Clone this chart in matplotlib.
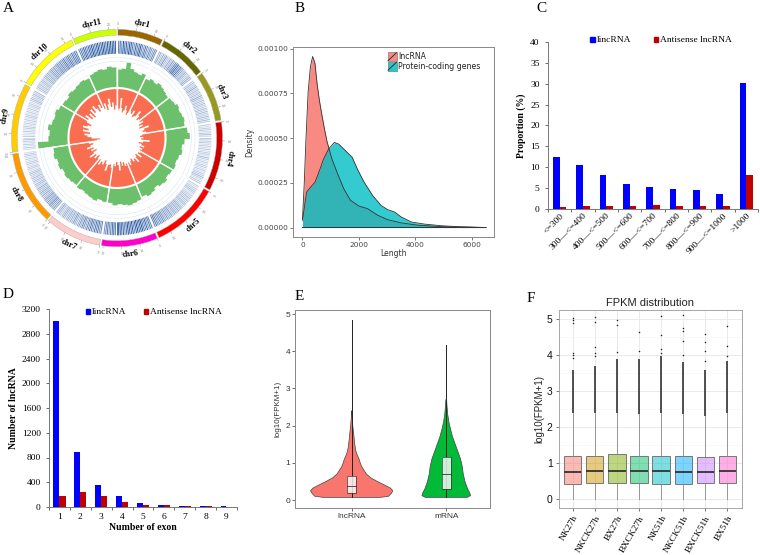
import numpy as np
import matplotlib
matplotlib.use('Agg')
import matplotlib.pyplot as plt
from matplotlib.patches import Wedge, Rectangle, Polygon
from matplotlib.collections import LineCollection

# ---------------- data ----------------
# A: circos
chr_names = ['chr1', 'chr2', 'chr3', 'chr4', 'chr5', 'chr6', 'chr7', 'chr8', 'chr9', 'chr10', 'chr11']
chr_len = [25, 26, 27, 37, 37, 31, 31, 40, 37, 34, 24]
chr_colors = ['#996600', '#666600', '#99991e', '#cc0000', '#ff0000', '#ff00cc',
              '#ffcccc', '#ff9900', '#ffcc00', '#ffff00', '#ccff00']
# lncRNA locus density (0-9) per 1 Mb, heat ring
heat = [
    [6, 8, 5, 9, 7, 8, 6, 9, 8, 7, 5, 8, 6, 7, 9, 6, 5, 7, 6, 4, 6, 5, 4, 6, 5],
    [3, 4, 2, 4, 3, 5, 3, 2, 4, 3, 5, 4, 6, 7, 8, 6, 7, 5, 4, 3, 4, 3, 2, 3, 4, 3],
    [2, 3, 2, 3, 4, 2, 3, 2, 3, 2, 4, 3, 2, 3, 2, 3, 2, 2, 3, 2, 3, 2, 2, 3, 2, 3, 2],
    [2, 1, 2, 2, 1, 2, 3, 1, 2, 1, 2, 2, 1, 2, 1, 2, 1, 2, 2, 1, 3, 2, 1, 2, 1, 2, 2, 1, 2, 1, 2, 2, 3, 2, 1, 2, 2],
    [2, 1, 2, 2, 3, 2, 1, 2, 2, 3, 2, 3, 2, 3, 3, 2, 3, 4, 3, 4, 3, 4, 4, 3, 5, 4, 4, 5, 4, 5, 6, 5, 6, 5, 6, 7, 6],
    [6, 7, 5, 8, 6, 7, 9, 8, 7, 9, 8, 6, 9, 7, 8, 9, 7, 6, 8, 7, 9, 8, 7, 6, 8, 7, 6, 5, 7, 6, 5],
    [6, 5, 7, 6, 7, 5, 6, 7, 5, 6, 4, 5, 6, 4, 5, 4, 3, 4, 5, 3, 4, 3, 4, 3, 3, 4, 3, 2, 3, 4, 3],
    [4, 5, 4, 5, 6, 4, 5, 4, 5, 4, 3, 4, 3, 4, 3, 3, 4, 2, 3, 3, 2, 3, 2, 3, 2, 2, 3, 2, 1, 2, 2, 1, 2, 2, 1, 2, 1, 2, 2, 1],
    [1, 2, 1, 2, 1, 2, 2, 1, 2, 1, 1, 2, 1, 2, 2, 1, 2, 1, 2, 1, 2, 2, 1, 2, 1, 2, 1, 2, 2, 1, 2, 3, 2, 2, 3, 2, 3],
    [2, 3, 2, 3, 2, 3, 3, 2, 3, 4, 3, 4, 3, 4, 5, 4, 5, 4, 5, 6, 5, 6, 5, 6, 7, 5, 6, 7, 6, 5, 7, 6, 7, 6],
    [6, 7, 6, 8, 7, 6, 8, 7, 9, 8, 7, 8, 9, 7, 8, 9, 8, 7, 9, 8, 9, 8, 9, 8],
]
# green histogram (outer) and orange histogram (inner), in 0.01 radius units
green_hist = [
    [17, 18, 24, 19, 17, 16, 18],
    [15, 17, 16, 18, 17, 16, 15],
    [16, 17, 19, 18, 19, 20, 19],
    [21, 23, 18, 16, 17, 15, 14, 15],
    [14, 13, 15, 14, 12, 14, 15, 13],
    [15, 16, 17, 16, 15, 16, 14],
    [14, 13, 15, 14, 13, 12, 13],
    [12, 13, 14, 13, 15, 14, 16, 15],
    [29, 19, 18, 20, 17, 16, 17, 15],
    [14, 13, 15, 14, 15, 16, 15],
    [17, 18, 19, 18, 20, 19],
]
orange_hist = [
    [21, 19, 9, 18, 22, 20, 15, 19, 23, 21],
    [18, 20, 16, 22, 20, 13, 17, 21, 19],
    [20, 17, 22, 19, 23, 14, 19, 21, 18],
    [22, 24, 21, 23, 15, 21, 25, 22, 19, 23, 20, 22],
    [20, 22, 17, 23, 21, 16, 21, 19, 23, 21, 18, 21],
    [21, 19, 23, 20, 24, 16, 21, 24, 20, 22],
    [18, 21, 20, 14, 20, 23, 18, 20, 16, 21],
    [20, 23, 18, 21, 15, 20, 24, 19, 22, 16, 20, 23, 19],
    [27, 30, 22, 18, 15, 20, 13, 18, 12, 16, 19, 14],
    [14, 10, 17, 12, 18, 10, 15, 9, 13, 17, 11, 15],
    [17, 12, 19, 14, 9, 17, 13, 20, 16],
]

# B: length density
lnc_len = [0, 60, 120, 200, 280, 360, 440, 520, 600, 683, 780, 862, 950, 1042, 1222,
           1461, 1700, 2000, 2300, 2659, 3018, 3497, 4096, 4934, 5700, 6500]
lnc_dens = [0.00005, 0.00024, 0.000485, 0.00076, 0.0009, 0.000957, 0.00092, 0.0008, 0.00071,
            0.000633, 0.00055, 0.000485, 0.000435, 0.000383, 0.000309, 0.000217, 0.000152,
            0.00012, 0.000106, 0.000069, 0.000044, 0.000026, 0.000013, 0.000005, 0.000002, 0.0]
pc_len = [0, 144, 287, 443, 623, 743, 922, 1126, 1281, 1521, 1760, 1940, 2180, 2479,
          2778, 3018, 3257, 3497, 3856, 4335, 4934, 5500, 6000, 6500]
pc_dens = [0.00004, 0.000198, 0.000226, 0.000254, 0.000328, 0.000383, 0.000439, 0.000476,
           0.000467, 0.00043, 0.000393, 0.000328, 0.000254, 0.00018, 0.000124, 0.0001,
           0.000087, 0.000059, 0.000031, 0.000019, 0.00001, 0.000005, 0.000003, 0.0]

# C: length distribution
len_bins = ['<=300', '300—<=400', '400—<=500', '500—<=600', '600—<=700',
            '700—<=800', '800—<=900', '900—<=1000', '>1000']
linc_pct = [12.5, 10.6, 8.1, 6.0, 5.2, 4.7, 4.5, 3.5, 30.2]
anti_pct = [0.4, 0.8, 0.8, 0.8, 1.0, 0.8, 0.6, 0.6, 8.1]

# D: exon number
exon_n = ['1', '2', '3', '4', '5', '6', '7', '8', '9']
linc_exon = [3000, 890, 350, 170, 65, 30, 15, 15, 15]
anti_exon = [180, 235, 170, 80, 40, 30, 18, 18, 0]

# E: violins (y, half width)
lnc_vy = [0.07, 0.1, 0.18, 0.25, 0.32, 0.4, 0.5, 0.6, 0.7, 0.8, 0.9, 1.0, 1.1, 1.2,
          1.3, 1.45, 1.6, 1.8, 2.0, 2.2, 2.4]
lnc_hw = [0.30, 0.39, 0.42, 0.435, 0.41, 0.35, 0.27, 0.20, 0.155, 0.13, 0.105, 0.09,
          0.078, 0.06, 0.046, 0.035, 0.028, 0.02, 0.011, 0.005, 0.002]
mrna_vy = [0.07, 0.12, 0.2, 0.3, 0.5, 0.7, 0.9, 1.1, 1.3, 1.5, 1.7, 1.9, 2.1, 2.3, 2.5, 2.7]
mrna_hw = [0.22, 0.258, 0.247, 0.226, 0.198, 0.18, 0.17, 0.152, 0.124, 0.095, 0.067,
           0.046, 0.028, 0.016, 0.009, 0.004]
violin_box = {'lncRNA': (0.07, 0.2, 0.38, 0.65, 4.85), 'mRNA': (0.07, 0.3, 0.7, 1.17, 4.18)}

# F: FPKM boxplots
samples = ['NK27h', 'NKCK27h', 'BX27h', 'BXCK27h', 'NK51h', 'NKCK51h', 'BXCK51h', 'BX51h']
f_q1 = [0.41, 0.44, 0.44, 0.44, 0.42, 0.41, 0.44, 0.44]
f_med = [0.76, 0.79, 0.79, 0.79, 0.78, 0.76, 0.76, 0.79]
f_q3 = [1.21, 1.19, 1.24, 1.19, 1.20, 1.20, 1.16, 1.21]
f_whi = [2.40, 2.38, 2.40, 2.36, 2.38, 2.36, 2.30, 2.38]
f_dense_top = [3.6, 3.7, 3.89, 3.9, 3.98, 3.8, 3.6, 3.84]
f_sparse = [
    [5.03, 4.98, 4.91, 4.05, 4.0, 3.93],
    [5.07, 4.93, 4.23, 4.07, 3.98],
    [4.97, 4.83, 4.1],
    [4.66, 4.12],
    [5.09, 4.56, 4.17, 4.07],
    [5.12, 4.77, 4.68, 4.41, 4.0],
    [4.59, 4.37, 4.12, 3.84],
    [4.81, 4.26, 3.98],
]
f_colors = ['#F8766D', '#CD9600', '#7CAE00', '#00BE67', '#00BFC4', '#00A9FF', '#C77CFF', '#FF61CC']

# ---------------- helpers ----------------
W, H = 760, 555
SERIF = 'Liberation Serif'
SANS = 'Liberation Sans'

fig = plt.figure(figsize=(7.6, 5.55), dpi=100)


def box(l, t, r, b):
    return [l / W, 1 - b / H, (r - l) / W, (b - t) / H]


def fx(x):
    return x / W


def fy(y):
    return 1 - y / H


def pol(theta, r):
    a = np.deg2rad(90 - np.asarray(theta))
    return r * np.cos(a), r * np.sin(a)


def stair(s, L, vals, base, sign):
    # histogram track as one polygon so that no seams show between bins
    n = len(vals)
    pts = []
    for i, v in enumerate(vals):
        th = np.linspace(s + i * L / n, s + (i + 1) * L / n, 6)
        x, y = pol(th, base + sign * v / 100)
        pts.extend(zip(x, y))
    x, y = pol(np.linspace(s + L, s, 40), base)
    pts.extend(zip(x, y))
    return pts


def legend_item(x, y, color, label):
    fig.patches.append(Rectangle((fx(x - 2.3), fy(y + 2.5)), 4.6 / W, 5 / H,
                                 transform=fig.transFigure, color=color))
    fig.text(fx(x + 4), fy(y), label, family=SERIF, fontsize=6.8, va='center')


for lab, (x, y) in zip('ABCDEF', [(8, 8), (300, 8), (541, 8), (8, 295), (299, 297), (531, 298)]):
    fig.text(fx(x), fy(y), lab, family=SERIF, fontsize=11, ha='center', va='center')

# ---------------- A ----------------
axA = fig.add_axes(box(0, 18, 240, 262))
axA.set_xlim(-117 / 105.5, (240 - 117) / 105.5)
axA.set_ylim((138 - 262) / 108.7, (138 - 18) / 108.7)
axA.axis('off')

gap = 1.0
starts = []
p = gap / 2
for L in chr_len:
    starts.append(p)
    p += L + gap

circ = np.linspace(0, 360, 500)
for r in [0.55, 0.64]:
    axA.plot(*pol(circ, r), color='#eeeeee', lw=0.4, zorder=1)
for r in [0.705, 0.74]:
    axA.plot(*pol(circ, r), color='#d8e6f3', lw=0.4, zorder=1)

for c, (s, L) in enumerate(zip(starts, chr_len)):
    # chromosome ring
    axA.add_patch(Wedge((0, 0), 1.0, 90 - (s + L), 90 - s, width=0.055,
                        facecolor=chr_colors[c], edgecolor='#aaaaaa', lw=0.3, zorder=3))
    for k in range(0, L + 1, 10):
        x0, y0 = pol(s + k, 1.0)
        x1, y1 = pol(s + k, 1.022)
        axA.plot([x0, x1], [y0, y1], color='#999999', lw=0.4)
        tx, ty = pol(s + k, 1.045)
        axA.text(tx, ty, str(k), fontsize=2.3, color='#888888', ha='center', va='center',
                 rotation=-(s + k))
    mid = s + L / 2
    rot = 180 - mid if 110 < mid < 265 else -mid
    lx, ly = pol(mid, 1.08)
    axA.text(lx, ly, chr_names[c], family=SERIF, fontsize=6, fontweight='bold',
             ha='center', va='center', rotation=rot, clip_on=False)

    # heat ring
    segs, cols = [], []
    for i, v in enumerate(heat[c]):
        th = s + (i + 0.5) * L / len(heat[c])
        xa, ya = pol(th, 0.775)
        xb, yb = pol(th, 0.895)
        segs.append([(xa, ya), (xb, yb)])
        t = 0.1 + 0.9 * v / 9
        cols.append((1 - t * (1 - 0x1d / 255), 1 - t * (1 - 0x4f / 255), 1 - t * (1 - 0x9b / 255)))
    axA.add_collection(LineCollection(segs, colors=cols, linewidths=0.7, zorder=2))

    # histograms
    axA.add_patch(Polygon(stair(s, L, green_hist[c], 0.46, 1), closed=True,
                          facecolor='#6cc06b', edgecolor='none', zorder=2))
    axA.add_patch(Polygon(stair(s, L, orange_hist[c], 0.46, -1), closed=True,
                          facecolor='#f96d50', edgecolor='none', zorder=2))
    xa, ya = pol(s - gap / 2, 0.12)
    xb, yb = pol(s - gap / 2, 0.78)
    axA.plot([xa, xb], [ya, yb], color='white', lw=1.0, zorder=4)

axA.plot(*pol(circ, 0.46), color='white', lw=1.5, zorder=4)

# ---------------- B ----------------
axB = fig.add_axes(box(293, 47, 494, 237))
axB.fill_between(lnc_len, lnc_dens, color='#F8766D', alpha=0.85, lw=0)
axB.plot(lnc_len + [0], lnc_dens + [0], color='#333333', lw=0.6)
axB.fill_between(pc_len, pc_dens, color='#00BFC4', alpha=0.8, lw=0)
axB.plot(pc_len + [0], pc_dens + [0], color='#333333', lw=0.6)
axB.set_xlim(-336, 6779)
axB.set_ylim(-0.0000528, 0.00101)
axB.set_xticks([0, 2000, 4000, 6000])
axB.set_yticks([0, 0.00025, 0.0005, 0.00075, 0.001])
axB.set_yticklabels(['0.00000', '0.00025', '0.00050', '0.00075', '0.00100'])
axB.tick_params(labelsize=5.3, colors='#444444', length=2, width=0.5, pad=1.5)
for sp in axB.spines.values():
    sp.set_color('#888888')
    sp.set_linewidth(0.7)
axB.set_xlabel('Length', fontsize=5.5, color='#333333', labelpad=1)
axB.set_ylabel('Density', fontsize=5.5, color='#333333', labelpad=2)
for yy, col, lab in [(56.7, '#F8766D', 'lncRNA'), (66.2, '#00BFC4', 'Protein-coding genes')]:
    fig.patches.append(Rectangle((fx(387.7), fy(yy + 4.4)), 9 / W, 8.8 / H,
                                 transform=fig.transFigure, facecolor=col, alpha=0.85,
                                 edgecolor='#555555', lw=0.4))
    fig.lines.append(plt.Line2D([fx(388), fx(396.5)], [fy(yy + 4), fy(yy - 4)],
                                transform=fig.transFigure, color='#222222', lw=0.6))
    fig.text(fx(398), fy(yy), lab, fontsize=5.6, color='#222222', va='center')

# ---------------- C ----------------
axC = fig.add_axes(box(548, 42, 758, 209))
xc = np.arange(len(len_bins))
axC.bar(xc - 0.145, linc_pct, 0.28, color='#0000ff')
axC.bar(xc + 0.145, anti_pct, 0.29, color='#c00000')
axC.set_xlim(-0.5, 8.5)
axC.set_ylim(0, 40)
axC.set_yticks(range(0, 41, 5))
axC.set_xticks(np.arange(-0.5, 9, 1))
axC.set_xticklabels([])
axC.set_xticks(xc, len_bins, minor=True)
axC.tick_params(axis='x', which='minor', length=0, pad=2)
axC.tick_params(axis='both', which='major', length=2.5, width=0.6, colors='#555555')
for lbl in axC.get_xticklabels(minor=True):
    lbl.set(rotation=45, ha='right', va='top', rotation_mode='anchor', family=SERIF, fontsize=6.8)
for lbl in axC.get_yticklabels():
    lbl.set(family=SERIF, fontsize=6.8, color='black')
for sp in ['top', 'right']:
    axC.spines[sp].set_visible(False)
for sp in ['left', 'bottom']:
    axC.spines[sp].set_color('#777777')
    axC.spines[sp].set_linewidth(0.7)
axC.set_ylabel('Proportion (%)', family=SERIF, fontsize=7, fontweight='bold', labelpad=3)
legend_item(592.5, 39.5, '#0000ff', 'lincRNA')
legend_item(656, 39.5, '#c00000', 'Antisense lncRNA')

# ---------------- D ----------------
axD = fig.add_axes(box(49, 309, 237, 507))
xd = np.arange(len(exon_n))
axD.bar(xd - 0.145, linc_exon, 0.28, color='#0000ff')
axD.bar(xd + 0.145, anti_exon, 0.29, color='#c00000')
axD.set_xlim(-0.5, 8.5)
axD.set_ylim(0, 3200)
axD.set_yticks(range(0, 3201, 400))
axD.set_xticks(np.arange(-0.5, 9, 1))
axD.set_xticklabels([])
axD.set_xticks(xd, exon_n, minor=True)
axD.tick_params(axis='x', which='minor', length=0, pad=4)
axD.tick_params(axis='both', which='major', length=2.5, width=0.6, colors='#555555')
for lbl in axD.get_xticklabels(minor=True) + axD.get_yticklabels():
    lbl.set(family=SERIF, fontsize=6.8, color='black')
for sp in ['top', 'right']:
    axD.spines[sp].set_visible(False)
for sp in ['left', 'bottom']:
    axD.spines[sp].set_color('#777777')
    axD.spines[sp].set_linewidth(0.7)
axD.set_xlabel('Number of exon', family=SERIF, fontsize=7, fontweight='bold', labelpad=2)
axD.set_ylabel('Number of lncRNA', family=SERIF, fontsize=7, fontweight='bold', labelpad=3)
legend_item(88, 311.5, '#0000ff', 'lincRNA')
legend_item(146, 311.5, '#c00000', 'Antisense lncRNA')

# ---------------- E ----------------
axE = fig.add_axes(box(295, 310, 490, 508))
for i, (vy, hw, col, key) in enumerate([(lnc_vy, lnc_hw, '#F8766D', 'lncRNA'),
                                        (mrna_vy, mrna_hw, '#00BA38', 'mRNA')]):
    vy = np.array(vy)
    hw = np.array(hw)
    xs = np.concatenate([i - hw, (i + hw)[::-1]])
    ys = np.concatenate([vy, vy[::-1]])
    axE.fill(xs, ys, facecolor=col, edgecolor='#444444', lw=0.5, zorder=2)
    lo, q1, med, q3, hi = violin_box[key]
    axE.plot([i, i], [lo, hi], color='#222222', lw=0.7, zorder=3)
    axE.add_patch(Rectangle((i - 0.05, q1), 0.1, q3 - q1, facecolor='white', alpha=0.8,
                            edgecolor='none', zorder=4))
    axE.add_patch(Rectangle((i - 0.05, q1), 0.1, q3 - q1, facecolor='none',
                            edgecolor='#333333', lw=0.5, zorder=5))
    axE.plot([i - 0.05, i + 0.05], [med, med], color='#333333', lw=0.6, zorder=5)
axE.set_xlim(-0.60, 1.463)
axE.set_ylim(-0.215, 5.11)
axE.set_xticks([0, 1], ['lncRNA', 'mRNA'])
axE.set_yticks(range(0, 6))
axE.tick_params(labelsize=6, colors='#333333', length=2, width=0.5, pad=1.5)
for lbl in axE.get_xticklabels() + axE.get_yticklabels():
    lbl.set_family(SANS)
for sp in axE.spines.values():
    sp.set_color('#888888')
    sp.set_linewidth(0.7)
axE.set_ylabel('log10(FPKM+1)', fontsize=5.8, family=SANS, color='#333333', labelpad=3)

# ---------------- F ----------------
axF = fig.add_axes(box(559, 310, 742, 508))
axF.set_axisbelow(True)
for yv in np.arange(0.5, 5.5, 1):
    axF.axhline(yv, color='#f3f3f3', lw=0.4, zorder=0)
axF.grid(True, color='#e6e6e6', lw=0.6)
pos = np.arange(1, len(samples) + 1)
stats = [dict(med=m, q1=a, q3=b, whislo=0.0, whishi=w, fliers=[])
         for m, a, b, w in zip(f_med, f_q1, f_q3, f_whi)]
bp = axF.bxp(stats, positions=pos, widths=0.78, patch_artist=True, showfliers=False,
             showcaps=False,
             boxprops=dict(edgecolor='#666666', lw=0.6),
             medianprops=dict(color='#333333', lw=1.3),
             whiskerprops=dict(color='#888888', lw=0.6))
for patch, col in zip(bp['boxes'], f_colors):
    patch.set_facecolor(matplotlib.colors.to_rgba(col, 0.5))
for i in range(len(samples)):
    axF.plot([pos[i], pos[i]], [f_whi[i], f_dense_top[i]], color='#222222', lw=1.3,
             alpha=0.85, zorder=3, solid_capstyle='butt')
    axF.plot([pos[i]] * len(f_sparse[i]), f_sparse[i], 'o', color='#222222', ms=1.1,
             mew=0, zorder=3)
axF.set_xlim(0.38, 8.66)
axF.set_ylim(-0.25, 5.26)
axF.set_yticks(range(0, 6))
axF.set_xticks(pos, samples)
axF.tick_params(colors='#444444', length=2.5, width=0.5, pad=2)
for lbl in axF.get_yticklabels():
    lbl.set(fontsize=7.5, color='#111111', family=SANS)
for lbl in axF.get_xticklabels():
    lbl.set(rotation=60, ha='right', va='top', rotation_mode='anchor', family=SERIF,
            fontsize=6.8, color='black')
for sp in axF.spines.values():
    sp.set_color('#999999')
    sp.set_linewidth(0.6)
axF.set_ylabel('log10(FPKM+1)', fontsize=7, family=SANS, color='#222222', labelpad=2)
axF.set_title('FPKM distribution', fontsize=8, family=SANS, color='#222222', pad=3)

fig.savefig('out.png', dpi=100)
